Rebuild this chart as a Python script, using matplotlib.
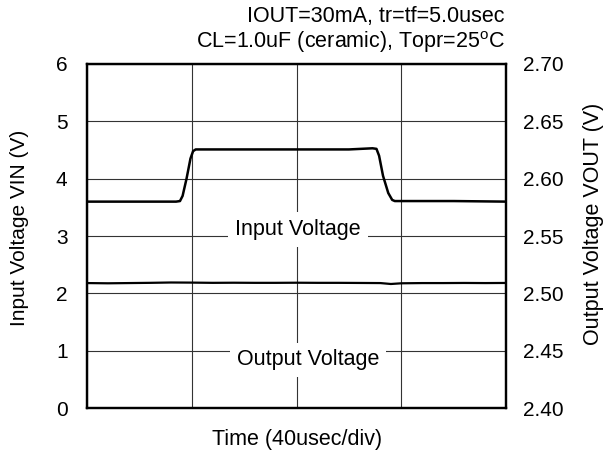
import matplotlib.pyplot as plt

plt.rcParams['font.family'] = ['Liberation Sans', 'DejaVu Sans']

# time in usec (40 usec/div, 4 divisions)
t_in = [0, 34, 35.5, 36.5, 38, 39.5, 40.5, 41.5, 70, 100, 109, 110.5, 111.5, 113, 115, 116.5, 117.5, 140, 160]
v_in = [3.60, 3.60, 3.61, 3.70, 4.00, 4.35, 4.48, 4.51, 4.51, 4.51, 4.53, 4.52, 4.40, 4.05, 3.75, 3.63, 3.61, 3.61, 3.60]

t_out = [0, 8, 16, 24, 32, 40, 48, 56, 64, 72, 80, 88, 96, 104, 112, 116, 120, 128, 136, 144, 152, 160]
v_out = [2.5090, 2.5088, 2.5090, 2.5092, 2.5095, 2.5094, 2.5092, 2.5093, 2.5092, 2.5092, 2.5093, 2.5092, 2.5092,
         2.5091, 2.5090, 2.5082, 2.5088, 2.5090, 2.5090, 2.5091, 2.5090, 2.5091]

fig, ax = plt.subplots(figsize=(6.04, 4.57), dpi=100)
fig.subplots_adjust(left=0.144, right=0.838, top=0.86, bottom=0.107)

ax.plot(t_in, v_in, color='black', lw=1.8, zorder=3)
ax.set_xlim(0, 160)
ax.set_ylim(0, 6)
ax.set_xticks([0, 40, 80, 120, 160])
ax.set_xticklabels([])
ax.set_yticks(range(7))
ax.grid(True, color='#333333', lw=0.8)
ax.tick_params(axis='y', length=0, labelsize=15, pad=14)
ax.tick_params(axis='x', length=0, pad=0)
ax.set_ylabel('Input Voltage VIN (V)', fontsize=15, va='center')
ax.yaxis.set_label_coords(-0.162, 0.525)
ax.set_xlabel('Time (40usec/div)', fontsize=15.5, va='center')
ax.xaxis.set_label_coords(0.5, -0.09)

ax2 = ax.twinx()
ax2.plot(t_out, v_out, color='black', lw=1.6, zorder=3)
ax2.set_ylim(2.40, 2.70)
ax2.set_yticks([2.40, 2.45, 2.50, 2.55, 2.60, 2.65, 2.70])
ax2.set_yticklabels(['2.40', '2.45', '2.50', '2.55', '2.60', '2.65', '2.70'])
ax2.tick_params(length=0, labelsize=15, pad=12)
ax2.set_ylabel('Output Voltage VOUT (V)', fontsize=15.5, va='center')
ax2.yaxis.set_label_coords(1.208, 0.535)

for a in (ax, ax2):
    for s in a.spines.values():
        s.set_linewidth(1.6)

ax.text(80.6, 3.12, 'Input Voltage', ha='center', va='center', fontsize=15.5,
        bbox=dict(facecolor='white', edgecolor='none', pad=5), zorder=5)
ax.text(84.4, 0.84, 'Output Voltage', ha='center', va='center', fontsize=15.5,
        bbox=dict(facecolor='white', edgecolor='none', pad=5), zorder=5)

fig.text(0.836, 0.963, 'IOUT=30mA, tr=tf=5.0usec', ha='right', va='center', fontsize=15.5)
fig.text(0.836, 0.908, 'CL=1.0uF (ceramic), Topr=25$^\\mathregular{o}$C', ha='right', va='center', fontsize=15.5)

fig.savefig('out.png', dpi=100)
